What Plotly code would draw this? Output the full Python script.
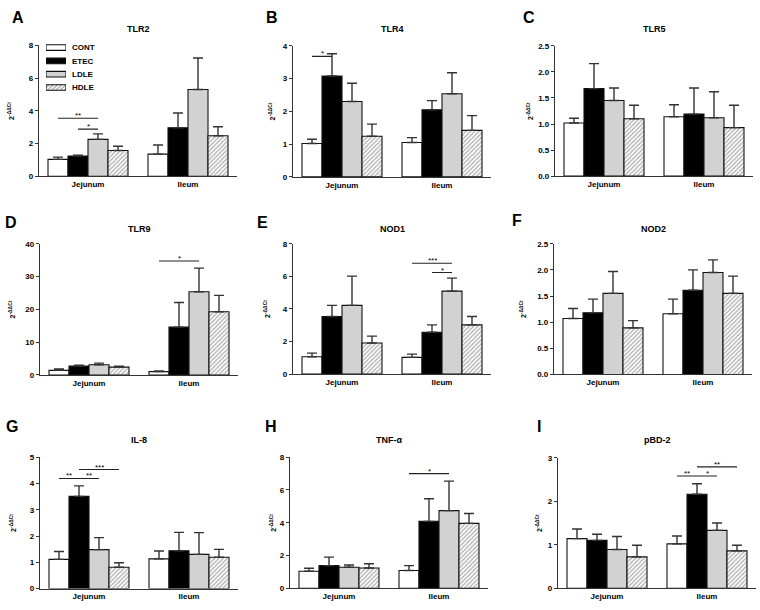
import plotly.graph_objects as go

W, H = 760, 610
REGIONS = ["Jejunum", "Ileum"]
GROUPS = ["CONT", "ETEC", "LDLE", "HDLE"]

# means per group: [Jejunum, Ileum]
TLR2_MEAN = [[1.04, 1.36], [1.24, 2.97], [2.26, 5.31], [1.58, 2.48]]
TLR2_SEM = [[0.14, 0.56], [0.06, 0.90], [0.34, 1.92], [0.26, 0.55]]
TLR4_MEAN = [[1.02, 1.05], [3.08, 2.05], [2.30, 2.54], [1.24, 1.42]]
TLR4_SEM = [[0.13, 0.15], [0.68, 0.28], [0.56, 0.64], [0.37, 0.45]]
TLR5_MEAN = [[1.02, 1.14], [1.68, 1.19], [1.45, 1.12], [1.10, 0.93]]
TLR5_SEM = [[0.09, 0.23], [0.48, 0.50], [0.24, 0.50], [0.26, 0.43]]
TLR9_MEAN = [[1.4, 1.0], [2.7, 14.6], [3.1, 25.4], [2.4, 19.3]]
TLR9_SEM = [[0.4, 0.2], [0.3, 7.5], [0.5, 7.2], [0.3, 5.0]]
NOD1_MEAN = [[1.07, 1.03], [3.54, 2.57], [4.22, 5.09], [1.91, 3.02]]
NOD1_SEM = [[0.22, 0.20], [0.68, 0.45], [1.79, 0.80], [0.42, 0.52]]
NOD2_MEAN = [[1.07, 1.16], [1.18, 1.61], [1.55, 1.95], [0.89, 1.55]]
NOD2_SEM = [[0.19, 0.28], [0.26, 0.39], [0.42, 0.24], [0.14, 0.33]]
IL8_MEAN = [[1.11, 1.13], [3.51, 1.44], [1.48, 1.30], [0.81, 1.19]]
IL8_SEM = [[0.30, 0.30], [0.40, 0.70], [0.46, 0.83], [0.17, 0.30]]
TNF_MEAN = [[1.04, 1.08], [1.38, 4.08], [1.28, 4.74], [1.24, 3.96]]
TNF_SEM = [[0.18, 0.30], [0.52, 1.38], [0.14, 1.80], [0.26, 0.60]]
PBD2_MEAN = [[1.14, 1.02], [1.10, 2.16], [0.89, 1.33], [0.72, 0.86]]
PBD2_SEM = [[0.22, 0.18], [0.14, 0.24], [0.30, 0.17], [0.27, 0.13]]

# significance brackets: (region index, group a, group b, y level, label)
TLR2_SIG = [(0, 0, 2, 3.55, "**"), (0, 1, 2, 2.89, "*")]
TLR4_SIG = [(0, 0, 1, 3.68, "*")]
TLR5_SIG = []
TLR9_SIG = [(1, 0, 2, 34.8, "*")]
NOD1_SIG = [(1, 0, 2, 6.8, "***"), (1, 1, 2, 6.23, "*")]
NOD2_SIG = []
IL8_SIG = [(0, 0, 1, 4.19, "**"), (0, 1, 2, 4.19, "**"), (0, 1, 3, 4.53, "***")]
TNF_SIG = [(1, 0, 2, 7.0, "*")]
PBD2_SIG = [(1, 0, 1, 2.58, "**"), (1, 1, 2, 2.58, "*"), (1, 1, 3, 2.79, "**")]

# panel: letter, title, mean, sem, sig, ymax, dtick, tickformat,
#        left px, top px, bottom px, ytitle x px, letter x, letter y
PANELS = [
    ("A", "TLR2", TLR2_MEAN, TLR2_SEM, TLR2_SIG, 8, 2, "d", 39, 42, 175, 11, 10, 14),
    ("B", "TLR4", TLR4_MEAN, TLR4_SEM, TLR4_SIG, 4, 1, "d", 293, 42.5, 175.5, 272, 264, 14),
    ("C", "TLR5", TLR5_MEAN, TLR5_SEM, TLR5_SIG, 2.5, 0.5, ".1f", 555, 42.5, 174.7, 530, 521, 14),
    ("D", "TLR9", TLR9_MEAN, TLR9_SEM, TLR9_SIG, 40, 10, "d", 40, 243.5, 376.5, 12, 3, 222),
    ("E", "NOD1", NOD1_MEAN, NOD1_SEM, NOD1_SIG, 8, 2, "d", 293, 243.3, 375.7, 267, 255, 222),
    ("F", "NOD2", NOD2_MEAN, NOD2_SEM, NOD2_SIG, 2.5, 0.5, ".1f", 554, 243.3, 376, 523, 510, 220),
    ("G", "IL-8", IL8_MEAN, IL8_SEM, IL8_SIG, 5, 1, "d", 40, 460, 593.3, 13, 4, 429),
    ("H", "TNF-α", TNF_MEAN, TNF_SEM, TNF_SIG, 8, 2, "d", 290, 460, 593, 273, 263, 429),
    ("I", "pBD-2", PBD2_MEAN, PBD2_SEM, PBD2_SIG, 3, 1, "d", 558, 460.5, 593, 539, 535, 429),
]

FILLS = ["white", "black", "#d2d2d2", "white"]
PATTERNS = ["", "", "", "/"]
FONT = "Liberation Sans, Arial, sans-serif"
AXC = "#333333"
PLOT_W = 198
BAR_W = 0.2
HATCH = dict(fgcolor="#5a5a5a", bgcolor="white", size=3, solidity=0.42)

fig = go.Figure()
shapes = []
annotations = []

for pi, (letter, title, mean, sem, sig, ymax, dtick, tfmt, L, T, B, ytx, lx, ly) in enumerate(PANELS):
    n = "" if pi == 0 else str(pi + 1)
    xa, ya = "x" + n, "y" + n
    for gi, g in enumerate(GROUPS):
        marker = dict(color=FILLS[gi], line=dict(color="#111", width=1.1))
        if PATTERNS[gi]:
            marker["pattern"] = dict(shape=PATTERNS[gi], **HATCH)
        fig.add_trace(go.Bar(
            x=REGIONS, y=mean[gi], name=g, legendgroup=g, showlegend=False,
            marker=marker, xaxis=xa, yaxis=ya,
            error_y=dict(type="data", symmetric=False, array=sem[gi], arrayminus=[0, 0],
                         color="#333", thickness=1.4, width=5),
        ))
    xd = [L / W, (L + PLOT_W) / W]
    yd = [1 - B / H, 1 - T / H]
    fig.layout["xaxis" + n] = dict(
        domain=xd, range=[-0.49, 1.49], anchor=ya, showline=True, linecolor=AXC, linewidth=1.3,
        ticks="", showgrid=False, zeroline=False, fixedrange=True,
        tickfont=dict(family=FONT, size=8, color="black", weight="bold"),
    )
    fig.layout["yaxis" + n] = dict(
        domain=yd, range=[0, ymax], anchor=xa, showline=True, linecolor=AXC, linewidth=1.3,
        ticks="outside", ticklen=3, tickwidth=1.2, tickcolor=AXC, dtick=dtick, tick0=0,
        tickformat=tfmt, showgrid=False, zeroline=False, fixedrange=True,
        tickfont=dict(family=FONT, size=8, color="black", weight="bold"),
    )
    for (r, a, b, yv, lab) in sig:
        xa0 = r - 0.3 + BAR_W * a
        xb0 = r - 0.3 + BAR_W * b
        shapes.append(dict(type="line", xref=xa, yref=ya, x0=xa0, x1=xb0, y0=yv, y1=yv,
                           line=dict(color="#222", width=1.1)))
        annotations.append(dict(xref=xa, yref=ya, x=(xa0 + xb0) / 2, y=yv, text=lab,
                                showarrow=False, yanchor="bottom", yshift=-4,
                                font=dict(family=FONT, size=8, color="black")))
    title_y = 25 if T < 100 else (228 if T < 300 else 443)
    annotations.append(dict(xref="paper", yref="paper", x=(L + PLOT_W / 2) / W, y=1 - title_y / H,
                            text="<b>" + title + "</b>", showarrow=False, xanchor="center", yanchor="middle",
                            font=dict(family=FONT, size=9, color="black")))
    annotations.append(dict(xref="paper", yref="paper", x=lx / W, y=1 - ly / H,
                            text="<b>" + letter + "</b>", showarrow=False, xanchor="left", yanchor="middle",
                            font=dict(family=FONT, size=16, color="black")))
    annotations.append(dict(xref="paper", yref="paper", x=ytx / W, y=1 - (T + B) / 2 / H,
                            text="<b>2<sup>-ΔΔCt</sup></b>", showarrow=False, textangle=-90,
                            xanchor="center", yanchor="middle",
                            font=dict(family=FONT, size=7, color="black")))

# legend key drawn as a small bar trace on its own axes
fig.add_trace(go.Bar(
    x=[1] * len(GROUPS), y=GROUPS, orientation="h", width=0.42, showlegend=False,
    marker=dict(color=FILLS, line=dict(color="#111", width=1.1),
                pattern=dict(shape=PATTERNS, **HATCH)),
    xaxis="x10", yaxis="y10", hoverinfo="skip",
))
fig.layout["xaxis10"] = dict(domain=[46 / W, 66 / W], range=[0, 1], anchor="y10", visible=False,
                             fixedrange=True)
fig.layout["yaxis10"] = dict(domain=[1 - 91.5 / H, 1 - 37.5 / H], anchor="x10", autorange="reversed",
                             side="right", showline=False, showgrid=False, zeroline=False, ticks="",
                             ticklabelstandoff=5, fixedrange=True,
                             tickfont=dict(family=FONT, size=8, color="black", weight="bold"))

fig.update_layout(
    width=W, height=H, margin=dict(l=0, r=0, t=0, b=0),
    paper_bgcolor="white", plot_bgcolor="rgba(0,0,0,0)",
    barmode="group", bargap=0.2, bargroupgap=0,
    shapes=shapes, annotations=annotations,
    showlegend=False,
)

fig.write_html("out.html", config={"displayModeBar": False},
               post_script="document.body.style.margin='0';document.body.style.padding='0';")
